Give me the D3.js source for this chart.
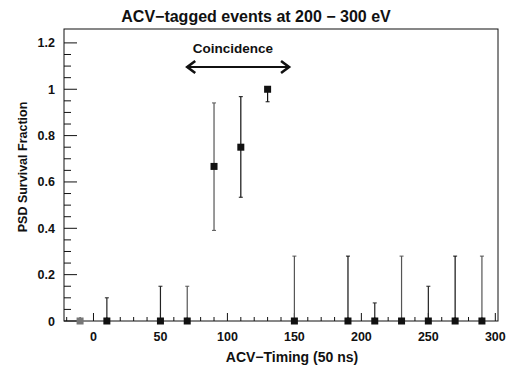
<!DOCTYPE html>
<html><head><meta charset="utf-8">
<script src="https://cdn.jsdelivr.net/npm/d3@7"></script>
<style>body{margin:0;background:#fff}svg{display:block}text{font-family:"Liberation Sans",Arial,sans-serif;font-weight:bold;fill:#111}</style>
</head><body>
<script>
const timing   = [10, 50, 70, 90, 110, 130, 150, 190, 210, 230, 250, 270, 290];
const fraction = [0, 0, 0, 0.667, 0.75, 1.0, 0, 0, 0, 0, 0, 0, 0];
const errLow   = [0, 0, 0, 0.276, 0.216, 0.054, 0, 0, 0, 0, 0, 0, 0];
const errHigh  = [0.10, 0.15, 0.15, 0.274, 0.218, 0, 0.28, 0.28, 0.078, 0.28, 0.15, 0.28, 0.28];
const barColor = ["#222", "#222", "#555", "#555", "#111", "#111", "#555", "#111", "#222", "#555", "#222", "#111", "#555"];
const grayTiming = [-10];
const grayFraction = [0];
const xTicks = [0, 50, 100, 150, 200, 250, 300];
const yTicks = [0, 0.2, 0.4, 0.6, 0.8, 1, 1.2];
const arrowRange = [70, 146];

const W = 508, H = 366;
const m = {l: 64, r: 10, t: 29, b: 45};
const svg = d3.select("body").append("svg").attr("width", W).attr("height", H);
const x = d3.scaleLinear().domain([-22, 302]).range([m.l, W - m.r]);
const y = d3.scaleLinear().domain([0, 1.26]).range([H - m.b, m.t]);

// frame
svg.append("rect").attr("x", m.l).attr("y", m.t).attr("width", W - m.r - m.l).attr("height", H - m.b - m.t)
  .attr("fill", "none").attr("stroke", "#111").attr("stroke-width", 1);

// x axis ticks
const xMinor = d3.range(-20, 301, 10);
svg.append("g").selectAll("line").data(xMinor).join("line")
  .attr("x1", d => x(d)).attr("x2", d => x(d))
  .attr("y1", y(0)).attr("y2", d => y(0) - (d % 50 === 0 ? 8 : 4))
  .attr("stroke", "#111");
svg.append("g").selectAll("text").data(xTicks).join("text")
  .attr("x", d => x(d)).attr("y", 341).attr("text-anchor", "middle")
  .attr("font-size", 12.5).text(d => d3.format("d")(d));

// y axis ticks
const yMinor = d3.range(0, 25).map(i => i * 0.05);
svg.append("g").selectAll("line").data(yMinor).join("line")
  .attr("x1", m.l).attr("x2", (d, i) => m.l + (i % 4 === 0 ? 13 : 7))
  .attr("y1", d => y(d)).attr("y2", d => y(d))
  .attr("stroke", "#111");
svg.append("g").selectAll("text").data(yTicks).join("text")
  .attr("x", 55).attr("y", d => y(d) + 4.5).attr("text-anchor", "end")
  .attr("font-size", 12.5).text(d => d3.format("~g")(d));

// titles
svg.append("text").attr("x", 256).attr("y", 22).attr("text-anchor", "middle")
  .attr("font-size", 16).text("ACV\u2212tagged events at 200 \u2212 300 eV");
svg.append("text").attr("x", 292).attr("y", 362).attr("text-anchor", "middle")
  .attr("font-size", 14).text("ACV\u2212Timing (50 ns)");
svg.append("text").attr("transform", "translate(27,167) rotate(-90)").attr("text-anchor", "middle")
  .attr("font-size", 12.5).text("PSD Survival Fraction");

// error bars
const g = svg.append("g");
timing.forEach((t, i) => {
  const c = barColor[i];
  const lo = fraction[i] - errLow[i], hi = fraction[i] + errHigh[i];
  g.append("line").attr("x1", x(t)).attr("x2", x(t)).attr("y1", y(lo)).attr("y2", y(hi))
    .attr("stroke", c).attr("stroke-width", 1.2);
  if (errHigh[i] > 0) g.append("line").attr("x1", x(t) - 2).attr("x2", x(t) + 2).attr("y1", y(hi)).attr("y2", y(hi)).attr("stroke", c);
  if (errLow[i] > 0) g.append("line").attr("x1", x(t) - 2).attr("x2", x(t) + 2).attr("y1", y(lo)).attr("y2", y(lo)).attr("stroke", c);
});
// markers
svg.append("g").selectAll("rect").data(grayTiming).join("rect")
  .attr("x", (d) => x(d) - 3.5).attr("y", (d, i) => y(grayFraction[i]) - 3.5)
  .attr("width", 7).attr("height", 7).attr("fill", "#777");
svg.append("g").selectAll("rect").data(timing).join("rect")
  .attr("x", d => x(d) - 3.5).attr("y", (d, i) => y(fraction[i]) - 3.5)
  .attr("width", 7).attr("height", 7).attr("fill", "#111");

// coincidence arrow
const ay = 67, ax1 = x(arrowRange[0]), ax2 = x(arrowRange[1]);
svg.append("line").attr("x1", ax1 + 1).attr("x2", ax2 - 1).attr("y1", ay).attr("y2", ay)
  .attr("stroke", "#111").attr("stroke-width", 2.2);
svg.append("path").attr("d", `M${ax1 + 8},${ay - 6} L${ax1},${ay} L${ax1 + 8},${ay + 6}`)
  .attr("fill", "none").attr("stroke", "#111").attr("stroke-width", 2.6);
svg.append("path").attr("d", `M${ax2 - 8},${ay - 6} L${ax2},${ay} L${ax2 - 8},${ay + 6}`)
  .attr("fill", "none").attr("stroke", "#111").attr("stroke-width", 2.6);
svg.append("text").attr("x", 233).attr("y", 53).attr("text-anchor", "middle")
  .attr("font-size", 13.5).text("Coincidence");
</script>
</body></html>
